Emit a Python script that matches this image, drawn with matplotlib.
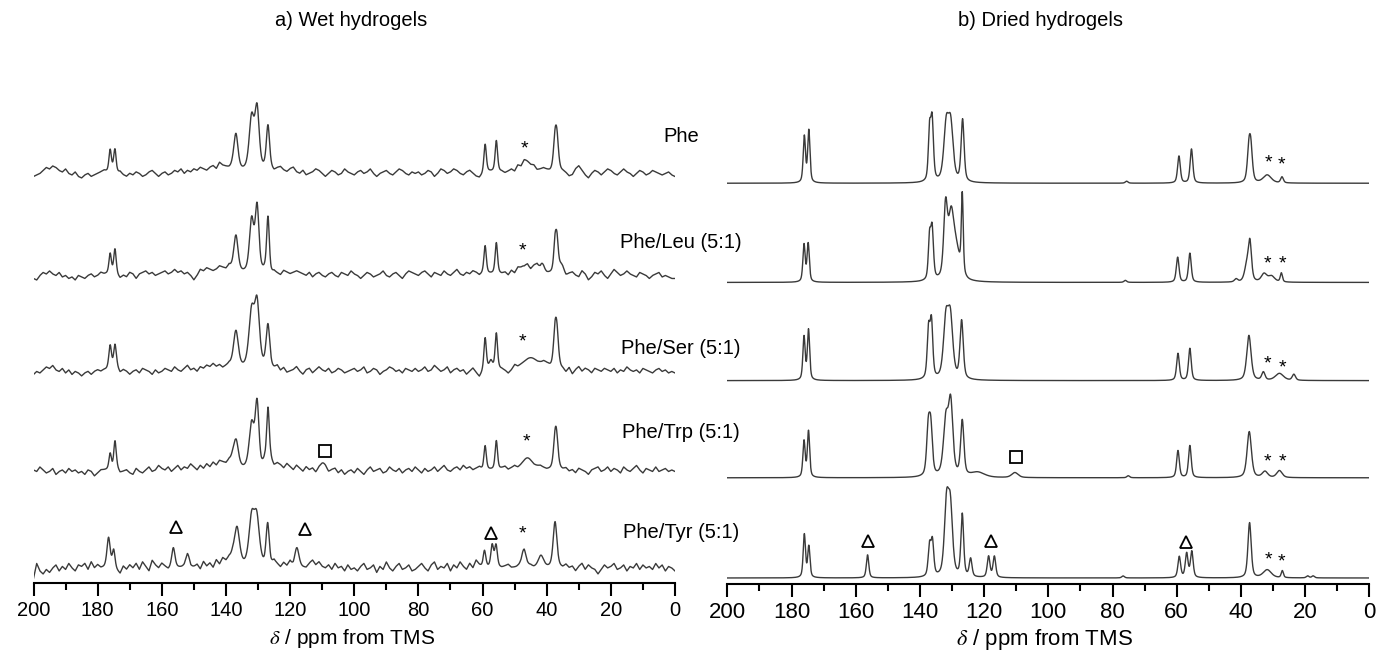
import numpy as np
import matplotlib
matplotlib.use("Agg")
import matplotlib.pyplot as plt

plt.rcParams['font.family'] = ['Liberation Sans', 'DejaVu Sans']
plt.rcParams['mathtext.fontset'] = 'stix'

## sample names, top to bottom
names = ['Phe', 'Phe/Leu (5:1)', 'Phe/Ser (5:1)', 'Phe/Trp (5:1)', 'Phe/Tyr (5:1)']

## baseline offsets of the stacked spectra (px above the axis line)
off_wet = [411, 309, 213, 113, 15]
off_dry = [400, 301, 203, 106, 6]

## peaks: (ppm, height, half width) -- wet hydrogels
wet_phe = [(176.1, 22, .45), (174.6, 22, .45), (136.9, 36, .8), (132.0, 52, .9),
           (130.3, 60, .8), (126.9, 42, .6), (59.2, 28, .45), (55.7, 31, .45),
           (46.5, 8, 2.5), (37.4, 29, .6), (36.8, 28, .6)]
wet_leu = [(176.1, 20, .45), (174.6, 25, .45), (136.9, 38, .8), (132.0, 52, .8),
           (130.3, 65, .7), (126.9, 56, .5), (59.2, 28, .45), (55.7, 31, .45),
           (47.0, 7, 1.5), (44.0, 6, 1.5), (41.5, 8, .8), (37.4, 28, .5),
           (36.8, 28, .5), (35.5, 8, 1.0)]
wet_ser = [(176.1, 24, .5), (174.6, 24, .5), (136.9, 38, .9), (132.0, 55, 1.0),
           (130.3, 62, .9), (126.9, 42, .7), (59.2, 32, .45), (57.4, 8, .6),
           (55.7, 36, .45), (45.0, 12, 3.0), (40.0, 4, 1.0), (37.4, 33, .6),
           (36.8, 30, .6)]
wet_trp = [(176.1, 16, .45), (174.6, 28, .45), (136.9, 30, .9), (132.0, 44, .9),
           (130.3, 64, .7), (126.9, 56, .5), (109.8, 7, 1.2), (59.2, 24, .45),
           (55.7, 29, .45), (46.0, 12, 2.0), (37.4, 26, .6), (36.9, 24, .6)]
wet_tyr = [(176.6, 30, .6), (175.0, 17, .5), (156.4, 20, .6), (151.8, 10, 1.0),
           (136.6, 40, 1.0), (132.0, 46, 1.0), (130.4, 46, 1.0), (127.0, 38, .6),
           (117.9, 20, .8), (59.4, 17, .5), (57.0, 22, .5), (55.8, 22, .5),
           (47.2, 16, 1.0), (41.8, 12, 1.0), (37.4, 46, .7)]

## peaks -- dried hydrogels
dry_phe = [(176.0, 46, .42), (174.6, 52, .42), (137.0, 48, .45), (136.2, 60, .5),
           (131.8, 54, .9), (130.4, 54, .9), (126.7, 62, .55), (75.6, 2, .5),
           (59.3, 27, .5), (55.4, 34, .5), (37.5, 30, .6), (36.9, 30, .6),
           (31.8, 8, 1.5), (27.2, 6, .5)]
dry_leu = [(176.1, 37, .42), (174.8, 38, .42), (137.0, 40, .45), (136.2, 50, .5),
           (132.0, 70, .7), (130.3, 55, 1.0), (128.8, 30, 1.5), (126.8, 78, .35),
           (76.0, 2, .5), (59.7, 25, .5), (55.9, 29, .5), (41.5, 3, .6),
           (38.2, 15, .8), (37.2, 38, .6), (32.8, 8, 1.0), (30.5, 6, 1.2),
           (27.4, 9, .4)]
dry_ser = [(176.1, 43, .42), (174.7, 50, .42), (137.3, 48, .5), (136.4, 55, .5),
           (131.9, 57, .9), (130.5, 58, .9), (127.0, 58, .6), (59.6, 27, .5),
           (55.9, 32, .5), (37.5, 45, .8), (33.0, 8, .6), (28.0, 7, 1.5),
           (23.5, 6, .6)]
dry_trp = [(176.1, 36, .42), (174.7, 46, .42), (137.4, 45, .6), (136.6, 45, .6),
           (131.9, 55, .9), (130.4, 70, .8), (126.8, 55, .6), (122.0, 5, 2.5),
           (110.4, 5, 1.2), (75.1, 2, .5), (59.6, 27, .5), (55.9, 32, .5),
           (37.4, 46, .8), (32.5, 6, 1.0), (28.0, 7, 1.0)]
dry_tyr = [(176.0, 43, .42), (174.6, 31, .42), (156.3, 23, .45), (137.0, 30, .5),
           (136.1, 34, .5), (131.7, 70, .8), (130.5, 65, .8), (126.8, 62, .5),
           (124.2, 18, .5), (118.6, 21, .5), (116.8, 21, .5), (76.7, 2, .5),
           (59.2, 21, .5), (56.9, 24, .5), (55.3, 26, .5), (37.3, 55, .6),
           (31.8, 8, 1.5), (27.1, 7, .4), (19.2, 2, .5), (17.5, 2, .5)]

## baseline noise of the wet spectra, read every 1 ppm from 200 down to 0
noise_phe = [-3, -2, -1, 1, 3, 2, 4, 3, 1, 0, 2, -1, -2, 0, -3, -4, -2, -1, -3, -2,
             -1, 0, 1, 0, 0, 1, -1, 0, -2, -3, -1, -2, 0, -1, -3, -2, 0, 1, -1, -3,
             -1, 0, -2, -1, 1, 0, 2, -1, 1, 0, 2, 1, 3, 2, 1, 3, 4, 2, 6, 4,
             3, 2, 2, 1, 0, 0, 0, 0, 0, 0, 0, 0, 1, 2, 1, 0, 2, 3, 1, 0,
             2, 3, 0, -1, 1, -2, -1, 0, 2, 1, -1, -3, -1, 1, 0, -2, -1, 2, 0, -1,
             -2, 0, 1, -1, 0, 2, -1, -3, -1, 0, 1, -1, -2, 0, 2, 1, -1, -2, 0, -1,
             0, -2, -1, 1, 0, -3, -1, 2, 1, -1, 0, 2, 1, -1, -2, 0, 1, -1, -3, -4,
             -2, 0, 0, 0, 0, 0, 0, -1, 0, 1, -1, 2, 0, 3, 2, 1, 2, 0, 1, 2,
             1, 0, 0, 0, 0, 0, -1, -3, -2, 2, 4, 1, -2, -4, -1, 1, 0, -2, 0, 2,
             1, -1, -2, 0, 2, 0, -1, -3, -1, 1, 0, -2, -1, 1, 0, -1, -2, -1, 0, -2,
             -3]
noise_leu = [-3, -4, -1, 1, 0, 2, 0, -1, 1, -2, -1, -3, -2, -4, -1, -2, -3, -1, 0, -2,
             -1, 1, 0, 0, 0, 0, -1, -3, -1, -2, 1, 0, -3, 0, 1, 2, 0, 1, -1, 0,
             1, 2, 0, 1, 3, 1, 2, 0, 1, -1, -4, -1, 3, 2, 4, 3, 2, 3, 5, 4,
             3, 5, 2, 0, 0, 0, 0, 0, 0, 0, 0, 0, 1, 0, -1, 1, 0, -1, 2, 1,
             0, 1, 2, 1, 0, -1, 1, -2, 0, 1, -1, -2, 0, 1, -1, -2, 1, 0, -1, 2,
             0, -1, -3, -1, 1, 0, -2, -1, 0, 2, -1, -2, 0, 1, -1, -3, 0, 2, 1, 0,
             -1, 1, 2, 0, -2, 1, 0, -1, 2, 0, -1, 1, 3, 0, -1, 1, 0, 2, 1, -1,
             0, 0, 0, 0, 0, 0, 0, 1, -1, 2, 0, 3, 1, 0, 2, -1, 1, 3, 0, 1,
             0, 0, 0, 0, 0, 0, -2, 0, 1, -1, -2, 2, 0, -4, -2, 1, 0, 2, -1, -3,
             0, 3, 1, -1, 0, 2, 0, -1, -2, 1, 0, -1, -3, -1, 0, 1, -2, -1, -2, -3,
             -3]
noise_ser = [-3, -1, -2, 0, 2, 1, 3, 0, -1, 1, -2, 0, -3, -1, -2, -4, -2, -1, -3, -1,
             0, -1, 0, 0, 0, 0, 1, -2, 0, -1, -3, -1, 0, -2, 1, 0, -1, -3, 0, -2,
             -1, 1, 0, -1, 2, 0, -1, 1, 3, 0, 1, -1, 2, 1, 3, 2, 4, 2, 3, 1,
             2, 3, 1, 0, 0, 0, 0, 0, 0, 0, 0, 0, 0, 1, -1, 0, 2, -1, 1, -2,
             -1, 0, 2, -1, -3, 0, 1, -2, 0, 2, 0, -1, 1, -2, -1, 1, 0, -2, -1, 0,
             1, -1, 0, 2, -2, -1, 1, 0, -3, -1, 0, 2, 1, -1, 0, -2, 1, 0, -1, 1,
             -1, 0, 2, -1, 0, 3, 1, -1, 0, 2, -2, 0, 1, -1, 0, -3, -1, 1, -2, -5,
             -2, 0, 0, 0, 0, 0, 0, -1, -3, -1, 2, 0, 0, 0, 0, 0, 0, 0, 1, 2,
             0, 0, 0, 0, 0, 0, -2, 1, -3, 0, 2, -1, 1, 0, -2, 1, 0, -1, 1, 0,
             -1, 1, -2, 0, -1, 2, 0, -1, 0, -2, 1, 0, -1, -2, 0, 1, -1, 0, -2, -1,
             -2]
noise_trp = [0, -1, 2, 0, -2, -1, 1, -3, -1, 0, -2, 1, -1, 0, -2, -1, -3, 0, -1, -4,
             -2, 0, 0, 0, 0, 0, 1, -2, -1, 0, -2, -3, 1, -1, -2, 0, 2, -1, 0, 3,
             1, 0, 2, -1, 1, 3, 0, 2, 1, 4, 2, 0, 3, 1, 4, 2, 5, 3, 6, 5,
             4, 6, 5, 0, 0, 0, 0, 0, 0, 0, 0, 0, 4, 3, 5, 2, 4, 3, 1, 4,
             2, 0, 3, 1, -1, 2, 0, 1, -2, 0, 0, 0, -2, 0, 1, -2, 0, -3, -1, 0,
             -2, 1, -1, -3, 0, 2, -1, 0, 1, -2, -1, 2, 0, -1, 1, -2, 0, 1, -1, 2,
             0, -2, 1, -1, 0, 2, -1, 1, 3, 0, -1, 1, 2, 0, 3, 1, 2, 0, 1, 2,
             0, 0, 0, 0, 0, 0, 1, 2, 0, 1, 2, 0, 0, 0, 0, 0, 0, 1, 2, 1,
             0, 0, 0, 0, 0, 0, 1, -1, 0, -2, 1, 0, -1, -3, 0, 1, 2, -1, 0, 2,
             -1, 1, 0, -2, 2, 0, -1, 1, 3, 0, -2, 1, 0, -1, 2, -1, 0, 1, -1, 0,
             -1]
noise_tyr = [-7, 3, -2, -4, -1, -3, 0, 2, -2, 1, -1, 3, 0, -2, 2, 1, 3, -1, 4, 0,
             2, 0, 0, 0, 0, 0, -2, -4, 1, -1, 2, 0, 3, -1, 4, 1, -2, 5, 2, 0,
             3, 1, -1, 0, 0, 0, 0, 0, 3, -2, 0, 2, -1, 4, 1, 3, 0, 5, 2, 6,
             4, 6, 5, 0, 0, 0, 0, 0, 0, 0, 0, 0, 0, 3, 1, 4, 2, 0, 3, 1,
             4, 0, 0, 0, 0, 0, 3, 5, 2, 4, 1, 0, 2, -1, 3, 0, 1, -2, 2, -1,
             0, -2, 1, 3, -1, 0, 2, -3, 1, -1, 4, 0, -2, 1, 3, -1, 0, 2, -2, -1,
             1, 3, 0, -2, 2, 4, -1, 1, 0, 3, -2, 2, 0, 4, 1, -1, 3, 0, 5, 2,
             0, 0, 0, 0, 0, 0, 0, 1, 2, 0, 0, 0, -1, 2, 0, 1, 0, 0, 0, 0,
             0, 0, 0, 0, 0, 0, 2, 0, 1, -2, 1, 3, -1, 2, 0, -1, -4, -1, 2, 0,
             1, 3, -1, 0, 2, -2, 1, 0, 3, -1, 2, 0, 1, -1, 3, 0, 2, -2, 1, 0,
             -2]

wet_peaks = [wet_phe, wet_leu, wet_ser, wet_trp, wet_tyr]
dry_peaks = [dry_phe, dry_leu, dry_ser, dry_trp, dry_tyr]
wet_noise = [noise_phe, noise_leu, noise_ser, noise_trp, noise_tyr]

## marks above peaks: (ppm, height above axis line)
wet_stars = [(46.8, 438), (47.4, 336), (47.4, 245), (46.4, 145), (47.4, 53)]
wet_squares = [(109.0, 132)]
wet_triangles = [(155.6, 56), (115.3, 54), (57.4, 50)]
dry_stars = [(31.5, 424), (27.3, 422), (31.7, 323), (27.0, 323), (31.7, 224),
             (27.0, 220), (31.7, 126), (27.0, 126), (31.5, 28), (27.3, 26)]
dry_squares = [(110.1, 127)]
dry_triangles = [(156.3, 43), (117.8, 43), (57.2, 42)]

ppm = np.linspace(200, 0, 4001)
noise_ppm = np.arange(200, -1, -1)
noise_gain = 1.5


def spectrum(peaks):
    y = np.zeros_like(ppm)
    for c, h, w in peaks:
        u = (ppm - c) / w
        y += h * (0.5 / (1 + u**2) + 0.5 * np.exp(-np.log(2) * u**2))
    return y


W, H = 1379, 659
fig = plt.figure(figsize=(W / 100, H / 100), dpi=100)
axL = fig.add_axes([33.5 / W, (H - 583) / H, 641.5 / W, 523 / H])
axR = fig.add_axes([727.3 / W, (H - 584) / H, 642 / W, 524 / H])

for ax, fs in [(axL, 14.5), (axR, 16)]:
    ax.set_xlim(200, 0)
    ax.set_ylim(0, 523)
    for s in ['left', 'right', 'top']:
        ax.spines[s].set_visible(False)
    ax.spines['bottom'].set_linewidth(1.5)
    ax.set_yticks([])
    ax.set_xticks(np.arange(200, -1, -20))
    ax.set_xticks(np.arange(190, 0, -20), minor=True)
    ax.tick_params(axis='x', which='major', length=9, width=1.5, labelsize=fs, pad=4)
    ax.tick_params(axis='x', which='minor', length=5, width=1.5)
    ax.patch.set_alpha(0)

lc = '#3a3a3a'
for i in range(5):
    noise = np.interp(ppm[::-1], noise_ppm[::-1], np.array(wet_noise[i])[::-1])[::-1]
    axL.plot(ppm, off_wet[i] + spectrum(wet_peaks[i]) + noise_gain * noise, color=lc, lw=1.0)
    axR.plot(ppm, off_dry[i] + spectrum(dry_peaks[i]), color=lc, lw=1.0)

for ax, stars, squares, tris in [(axL, wet_stars, wet_squares, wet_triangles),
                                 (axR, dry_stars, dry_squares, dry_triangles)]:
    for x, y in stars:
        ax.text(x, y - 4, '*', ha='center', va='center', fontsize=14)
    for x, y in squares:
        ax.plot(x, y, marker='s', ms=8, mfc='white', mec='black', mew=1.3)
    for x, y in tris:
        ax.plot(x, y, marker='^', ms=8, mfc='white', mec='black', mew=1.3)

## sample labels between the panels
label_y = [137, 243, 348, 433, 533]
for name, y in zip(names, label_y):
    fig.text(681 / W, 1 - y / H, name, ha='center', va='center', fontsize=14.5)

fig.text(351 / W, 1 - 20 / H, 'a) Wet hydrogels', ha='center', va='center', fontsize=14.5)
fig.text(1040 / W, 1 - 20 / H, 'b) Dried hydrogels', ha='center', va='center', fontsize=14.5)
fig.text(352 / W, 1 - 638 / H, r'$\delta$ / ppm from TMS', ha='center', va='center', fontsize=15)
fig.text(1044 / W, 1 - 640 / H, r'$\delta$ / ppm from TMS', ha='center', va='center', fontsize=16)

fig.savefig('out.png', dpi=100)
